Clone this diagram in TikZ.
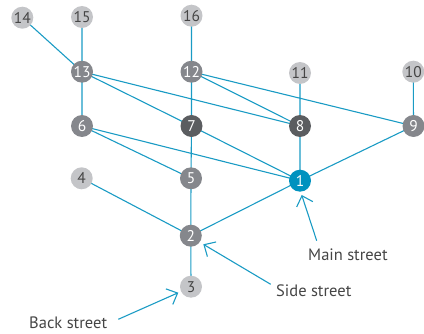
\documentclass[tikz,border=0pt]{standalone}
\usepackage{fontspec}
\setmainfont{PT Sans}
\usetikzlibrary{arrows.meta}
\definecolor{edgeblue}{HTML}{1A9BC4}
\definecolor{mainblue}{HTML}{0092BF}
\definecolor{darkg}{HTML}{5B5D60}
\definecolor{midg}{HTML}{85878C}
\definecolor{lightg}{HTML}{C4C5C8}
\definecolor{txtg}{HTML}{454545}
\tikzset{
  nd/.style={circle,minimum size=22pt,inner sep=0pt,font=\fontsize{15.5}{15.5}\selectfont},
  lightnode/.style={nd,fill=lightg,text=txtg},
  midnode/.style={nd,fill=midg,text=white},
  darknode/.style={nd,fill=darkg,text=white},
  mainnode/.style={nd,fill=mainblue,text=white},
  edge/.style={draw=edgeblue,line width=1.1pt},
  pointer/.style={draw=edgeblue,line width=1.1pt,-{Straight Barb[length=9pt,width=17pt,line width=1.1pt]}},
  lbl/.style={text=txtg,font=\fontsize{16.5}{16.5}\selectfont,inner sep=0pt,anchor=west}
}
\begin{document}
\begin{tikzpicture}[x=1pt,y=-1pt]
\useasboundingbox (0,0) rectangle (424,334);
% edges first
\coordinate (c14) at (22.3,17.7);
\coordinate (c15) at (82,17);
\coordinate (c16) at (191.5,15.7);
\coordinate (c13) at (82,71.7);
\coordinate (c12) at (191.5,71.7);
\coordinate (c11) at (300,73);
\coordinate (c10) at (413.3,71.7);
\coordinate (c6) at (82,126);
\coordinate (c7) at (191.5,126);
\coordinate (c8) at (300,126);
\coordinate (c9) at (413.5,126);
\coordinate (c4) at (81.7,178.3);
\coordinate (c5) at (191,178.3);
\coordinate (c1) at (300,180.7);
\coordinate (c2) at (190.8,235.7);
\coordinate (c3) at (191,286.7);
\draw[edge] (c14)--(c13) (c15)--(c13) (c13)--(c6) (c13)--(c7) (c13)--(c8)
  (c16)--(c12) (c12)--(c7) (c12)--(c8) (c12)--(c9) (c11)--(c8) (c10)--(c9)
  (c7)--(c5) (c7)--(c1) (c6)--(c5) (c6)--(c1) (c8)--(c1) (c9)--(c1)
  (c5)--(c2) (c4)--(c2) (c1)--(c2) (c2)--(c3);
% nodes
\node[lightnode] (n14) at (c14) {14};
\node[lightnode] (n15) at (c15) {15};
\node[lightnode] (n16) at (c16) {16};
\node[midnode] (n13) at (c13) {13};
\node[midnode] (n12) at (c12) {12};
\node[lightnode] (n11) at (c11) {11};
\node[lightnode] (n10) at (c10) {10};
\node[midnode] (n6) at (c6) {6};
\node[darknode] (n7) at (c7) {7};
\node[darknode] (n8) at (c8) {8};
\node[midnode] (n9) at (c9) {9};
\node[lightnode] (n4) at (c4) {4};
\node[midnode] (n5) at (c5) {5};
\node[mainnode] (n1) at (c1) {1};
\node[midnode] (n2) at (c2) {2};
\node[lightnode] (n3) at (c3) {3};
% labels
\node[lbl] (mainlbl) at (308,255) {Main street};
\node[lbl] (sidelbl) at (276,290.5) {Side street};
\node[lbl] (backlbl) at (29,323) {Back street};
\coordinate (mainfrom) at (316.7,240.7);
\coordinate (mainto) at (301.7,195);
\coordinate (sidefrom) at (270.7,284.3);
\coordinate (sideto) at (203.3,244.3);
\coordinate (backfrom) at (118.3,319.3);
\coordinate (backto) at (178.3,292.7);
\draw[pointer] (mainfrom) -- (mainto);
\draw[pointer] (sidefrom) -- (sideto);
\draw[pointer] (backfrom) -- (backto);
\end{tikzpicture}
\end{document}
